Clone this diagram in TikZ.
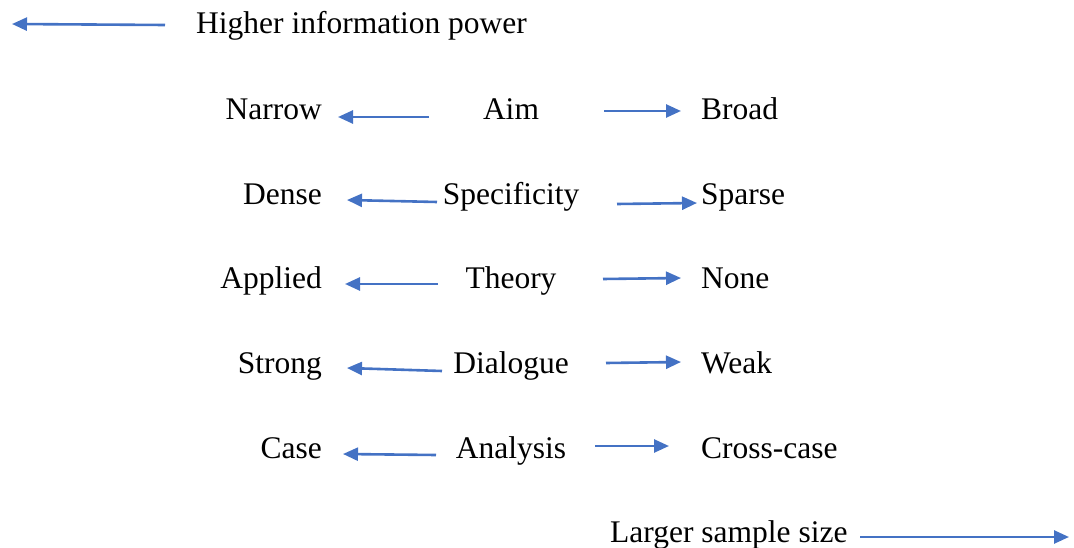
\documentclass[tikz,border=0pt]{standalone}
\usepackage{fontspec}
\setmainfont{Liberation Serif}
\usetikzlibrary{arrows.meta}

\definecolor{officeblue}{HTML}{4472C4}

\begin{document}
\begin{tikzpicture}[x=1pt, y=-1pt,
    every node/.style={inner sep=0pt, font=\fontsize{31.5}{37}\selectfont},
    pole/.style={line width=2.6pt, draw=officeblue,
      -{Triangle[length=15pt, width=13pt]}}
  ]

  % Fix the page to the size of the reference
  \useasboundingbox (0,0) rectangle (1074,548);

  % Column positions
  \pgfmathsetlengthmacro{\xl}{322}
  \pgfmathsetlengthmacro{\xm}{511}
  \pgfmathsetlengthmacro{\xr}{701}

  % Top label and its arrow
  \node[anchor=base west] (power) at (196,34) {Higher information power};
  \coordinate (powertail) at (165,25);
  \coordinate (powerhead) at (12,24);
  \draw[pole] (powertail) -- (powerhead);

  % Aim
  \node[anchor=base] (aim) at (\xm,120) {Aim};
  \node[anchor=base east] (narrow) at (\xl,120) {Narrow};
  \node[anchor=base west] (broad) at (\xr,120) {Broad};
  \coordinate (aiml) at (429,117);
  \coordinate (narrowh) at (338,117);
  \coordinate (aimr) at (604,111);
  \coordinate (broadh) at (681,111);
  \draw[pole] (aiml) -- (narrowh);
  \draw[pole] (aimr) -- (broadh);

  % Specificity
  \node[anchor=base] (spec) at (\xm,205) {Specificity};
  \node[anchor=base east] (dense) at (\xl,205) {Dense};
  \node[anchor=base west] (sparse) at (\xr,205) {Sparse};
  \coordinate (specl) at (437,202);
  \coordinate (denseh) at (347,200);
  \coordinate (specr) at (617,204);
  \coordinate (sparseh) at (697,203);
  \draw[pole] (specl) -- (denseh);
  \draw[pole] (specr) -- (sparseh);

  % Theory
  \node[anchor=base] (theory) at (\xm,288) {Theory};
  \node[anchor=base east] (applied) at (\xl,288) {Applied};
  \node[anchor=base west] (none) at (\xr,288) {None};
  \coordinate (theoryl) at (438,284);
  \coordinate (appliedh) at (345,284);
  \coordinate (theoryr) at (603,279);
  \coordinate (noneh) at (681,278);
  \draw[pole] (theoryl) -- (appliedh);
  \draw[pole] (theoryr) -- (noneh);

  % Dialogue
  \node[anchor=base] (dialogue) at (\xm,373) {Dialogue};
  \node[anchor=base east] (strong) at (\xl,373) {Strong};
  \node[anchor=base west] (weak) at (\xr,373) {Weak};
  \coordinate (dialoguel) at (442,371);
  \coordinate (strongh) at (347,368);
  \coordinate (dialoguer) at (606,363);
  \coordinate (weakh) at (681,362);
  \draw[pole] (dialoguel) -- (strongh);
  \draw[pole] (dialoguer) -- (weakh);

  % Analysis
  \node[anchor=base] (analysis) at (\xm,458) {Analysis};
  \node[anchor=base east] (case) at (\xl,458) {Case};
  \node[anchor=base west] (cross) at (\xr,458) {Cross-case};
  \coordinate (analysisl) at (436,455);
  \coordinate (caseh) at (343,454);
  \coordinate (analysisr) at (595,446);
  \coordinate (crossh) at (669,446);
  \draw[pole] (analysisl) -- (caseh);
  \draw[pole] (analysisr) -- (crossh);

  % Bottom label and its arrow
  \node[anchor=base west] (sample) at (610,542) {Larger sample size};
  \coordinate (sampletail) at (860,537);
  \coordinate (samplehead) at (1069,537);
  \draw[pole] (sampletail) -- (samplehead);

\end{tikzpicture}
\end{document}
